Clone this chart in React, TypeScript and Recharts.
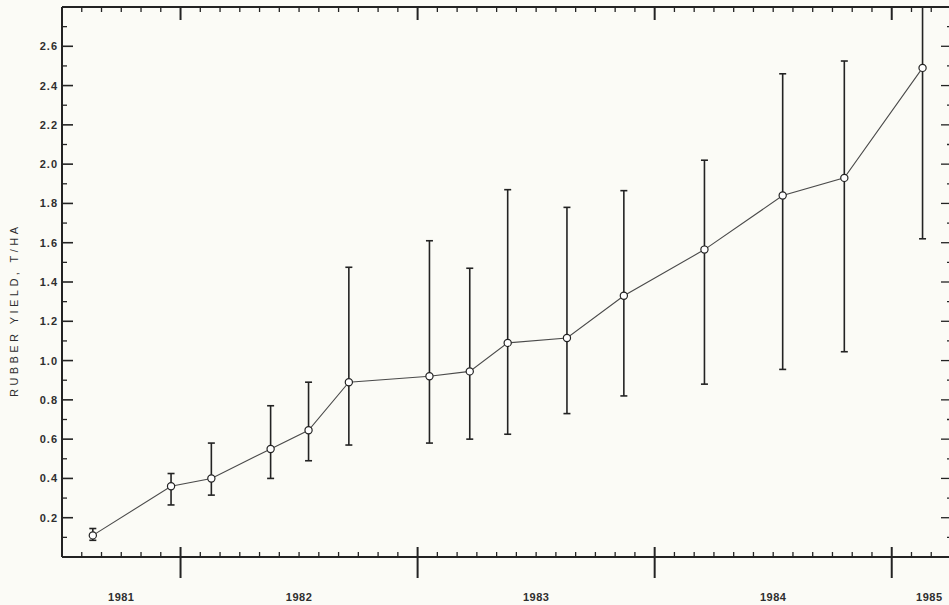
import { ComposedChart, Line, XAxis, YAxis, ErrorBar } from 'recharts';

// sampling dates as decimal years
const sampleDates = [1981.63, 1981.96, 1982.13, 1982.38, 1982.54, 1982.71, 1983.05, 1983.22, 1983.38, 1983.63, 1983.87, 1984.21, 1984.54, 1984.8, 1985.13];
// mean rubber yield, t/ha
const meanYield = [0.11, 0.36, 0.4, 0.55, 0.645, 0.89, 0.92, 0.945, 1.09, 1.115, 1.33, 1.565, 1.84, 1.93, 2.49];
// lower and upper ends of the error bars
const lowYield = [0.085, 0.265, 0.315, 0.4, 0.49, 0.57, 0.58, 0.6, 0.625, 0.73, 0.82, 0.88, 0.955, 1.045, 1.62];
const highYield = [0.145, 0.425, 0.58, 0.77, 0.89, 1.475, 1.61, 1.47, 1.87, 1.78, 1.865, 2.02, 2.46, 2.525, 2.8];

const yearLabels = ['1981', '1982', '1983', '1984', '1985'];
const yLabels = ['0.2', '0.4', '0.6', '0.8', '1.0', '1.2', '1.4', '1.6', '1.8', '2.0', '2.2', '2.4', '2.6'];

const X_MIN = 1981.5;
const X_MAX = 1985.25;
const Y_MAX = 2.8;

const PAPER = '#fbfbf6';
const INK = '#232323';
const TEXT = '#2e2e2e';
const FONT = '"Liberation Sans", Arial, sans-serif';

const rows = sampleDates.map((t, i) => ({
  t,
  y: meanYield[i],
  err: [meanYield[i] - lowYield[i], highYield[i] - meanYield[i]],
}));

const close = (a: number, b: number) => Math.abs(a - b) < 1e-6;

// monthly tick marks along the time axis
const monthTicks: number[] = [];
for (let m = 1; m < Math.round((X_MAX - X_MIN) * 12); m++) monthTicks.push(X_MIN + m / 12);

// year labels sit in the middle of the visible part of each year
const yearCenters = yearLabels.map((y) => {
  const a = Math.max(Number(y), X_MIN);
  const b = Math.min(Number(y) + 1, X_MAX);
  return (a + b) / 2;
});

// bottom axis carries both the month marks and the year labels
const bottomTicks = [...monthTicks, ...yearCenters.filter((c) => !monthTicks.some((m) => close(m, c)))].sort((a, b) => a - b);

const yTicks: number[] = [];
for (let i = 1; i < Math.round(Y_MAX * 10); i++) yTicks.push(i / 10);

const isYear = (v: number) => close(v, Math.round(v));
const isMajorY = (v: number) => Math.round(v * 10) % 2 === 0;

const BottomTick = (p: any) => {
  const { x, y, payload } = p;
  const v = payload.value;
  const idx = yearCenters.findIndex((c) => close(c, v));
  const isMonth = monthTicks.some((m) => close(m, v));
  return (
    <g>
      {isMonth && isYear(v) && <line x1={x} x2={x} y1={y - 10} y2={y + 21} stroke={INK} strokeWidth={2} />}
      {isMonth && !isYear(v) && <line x1={x} x2={x} y1={y} y2={y - 5} stroke={INK} strokeWidth={1.3} />}
      {idx >= 0 && (
        <text x={x + (idx === yearLabels.length - 1 ? 8 : 0)} y={y + 44} textAnchor="middle" fontFamily={FONT} fontSize={11} fontWeight="bold" letterSpacing={0.5} fill={TEXT}>
          {yearLabels[idx]}
        </text>
      )}
    </g>
  );
};

const TopTick = (p: any) => {
  const { x, y, payload } = p;
  const major = isYear(payload.value);
  return <line x1={x} x2={x} y1={y} y2={y + (major ? 13 : 5)} stroke={INK} strokeWidth={major ? 2 : 1.3} />;
};

const LeftTick = (p: any) => {
  const { x, y, payload } = p;
  const v = payload.value;
  if (!isMajorY(v)) return <line x1={x} x2={x + 5} y1={y} y2={y} stroke={INK} strokeWidth={1.3} />;
  const label = yLabels[Math.round(v * 5) - 1];
  return (
    <g>
      <line x1={x} x2={x + 11} y1={y} y2={y} stroke={INK} strokeWidth={1.6} />
      <text x={x - 4} y={y} dy="0.36em" textAnchor="end" fontFamily={FONT} fontSize={11} fontWeight="bold" letterSpacing={1} fill={TEXT}>
        {label}
      </text>
    </g>
  );
};

const RightTick = (p: any) => {
  const { x, y, payload } = p;
  const len = isMajorY(payload.value) ? 10 : 4;
  return <line x1={x} x2={x - len} y1={y} y2={y} stroke={INK} strokeWidth={1.3} />;
};

const YTitle = (p: any) => {
  const vb = p.viewBox;
  const cx = vb.x + 14;
  const cy = vb.y + vb.height / 2 + 30;
  return (
    <text
      transform={`translate(${cx}, ${cy}) rotate(-90)`}
      textAnchor="middle"
      dy="0.36em"
      fontFamily={FONT}
      fontSize={11}
      fill={TEXT}
      textLength={170}
      lengthAdjust="spacing"
    >
      RUBBER  YIELD, T/HA
    </text>
  );
};

export default function App() {
  const axisLine = { stroke: INK, strokeWidth: 2 };
  return (
    <div style={{ position: 'absolute', left: 0, top: 0, width: 949, height: 605, overflow: 'hidden', background: PAPER }}>
      <ComposedChart width={960} height={605} data={rows} margin={{ top: 6, right: 8, bottom: 47, left: 0 }}>
        <XAxis
          xAxisId="bottom"
          type="number"
          dataKey="t"
          domain={[X_MIN, X_MAX]}
          allowDataOverflow
          ticks={bottomTicks}
          interval={0}
          height={1}
          tickSize={0}
          tickMargin={0}
          tickLine={false}
          axisLine={axisLine}
          tick={BottomTick}
        />
        <XAxis
          xAxisId="top"
          orientation="top"
          type="number"
          dataKey="t"
          domain={[X_MIN, X_MAX]}
          allowDataOverflow
          ticks={monthTicks}
          interval={0}
          height={1}
          tickSize={0}
          tickMargin={0}
          tickLine={false}
          axisLine={axisLine}
          tick={TopTick}
        />
        <YAxis
          yAxisId="left"
          type="number"
          domain={[0, Y_MAX]}
          allowDataOverflow
          ticks={yTicks}
          interval={0}
          width={62}
          tickSize={0}
          tickMargin={0}
          tickLine={false}
          axisLine={axisLine}
          tick={LeftTick}
          label={YTitle}
        />
        <YAxis
          yAxisId="right"
          orientation="right"
          type="number"
          domain={[0, Y_MAX]}
          allowDataOverflow
          ticks={yTicks}
          interval={0}
          width={1}
          tickSize={0}
          tickMargin={0}
          tickLine={false}
          axisLine={false}
          tick={RightTick}
        />
        <Line
          xAxisId="bottom"
          yAxisId="left"
          type="linear"
          dataKey="y"
          stroke="#4a4a4a"
          strokeWidth={1.1}
          dot={{ r: 3.6, fill: '#ffffff', stroke: INK, strokeWidth: 1.2 }}
          activeDot={false}
          isAnimationActive={false}
        >
          <ErrorBar dataKey="err" width={3.5} stroke={INK} strokeWidth={1.6} direction="y" isAnimationActive={false} />
        </Line>
      </ComposedChart>
    </div>
  );
}
